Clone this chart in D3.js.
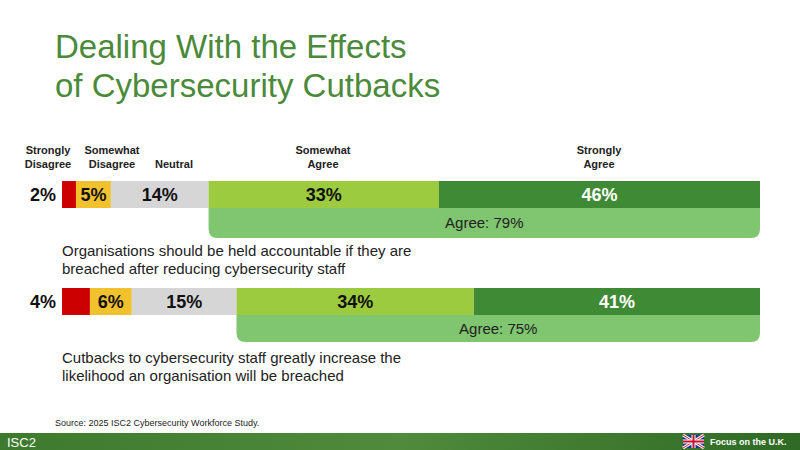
<!DOCTYPE html>
<html><head><meta charset="utf-8">
<script src="https://cdn.jsdelivr.net/npm/d3@7"></script>
<style>body{margin:0;background:#fff}text{font-family:"Liberation Sans",Arial,sans-serif}</style>
</head><body><svg id="chart" width="800" height="450"></svg>
<script>
const categories = ["Strongly\nDisagree", "Somewhat\nDisagree", "Neutral", "Somewhat\nAgree", "Strongly\nAgree"];
const statements = [
  "Organisations should be held accountable if they are\nbreached after reducing cybersecurity staff",
  "Cutbacks to cybersecurity staff greatly increase the\nlikelihood an organisation will be breached"
];
const values = [[2, 5, 14, 33, 46], [4, 6, 15, 34, 41]];
const agreeTotals = [79, 75];
const colors = ["#cc0000", "#f2c12e", "#d6d6d6", "#9dcb3f", "#3f8a35"];

const svg = d3.select("#chart");
const defs = svg.append("defs");
const fg = defs.append("linearGradient").attr("id", "foot").attr("x1", 0).attr("x2", 1);
fg.append("stop").attr("offset", 0).attr("stop-color", "#3d7a2e");
fg.append("stop").attr("offset", 0.5).attr("stop-color", "#4f8b3a");
fg.append("stop").attr("offset", 1).attr("stop-color", "#2f6a25");

// title
svg.append("text").attr("x", 55).attr("y", 58).attr("font-size", 33).attr("fill", "#4a8a3a").text("Dealing With the Effects");
svg.append("text").attr("x", 55).attr("y", 97).attr("font-size", 33).attr("fill", "#4a8a3a").text("of Cybersecurity Cutbacks");

const x = d3.scaleLinear().domain([0, 100]).range([62, 760]);
const rowY = [181, 288], barH = 27, boxH = 30;

// header labels
const headX = [48, 112, 174, 323, 599];
categories.forEach((c, i) => {
  const lines = c.split("\n");
  const t = svg.append("text").attr("text-anchor", "middle").attr("font-size", 11).attr("font-weight", "bold").attr("fill", "#222");
  lines.forEach((l, j) => t.append("tspan").attr("x", headX[i]).attr("y", 154 + (j - lines.length + 1) * 14 + 14).text(l));
});

values.forEach((vals, r) => {
  const y0 = rowY[r];
  const starts = [0, ...d3.cumsum(vals)];
  const agreeStart = starts[3];
  const bx = x(agreeStart), bw = x(100) - x(agreeStart), by = y0 + barH, bh = boxH - (r ? 3 : 0), rr = 9;
  svg.append("path").attr("fill", "#80c570")
    .attr("d", `M${bx},${by}H${bx + bw}V${by + bh - rr}Q${bx + bw},${by + bh} ${bx + bw - rr},${by + bh}H${bx + rr}Q${bx},${by + bh} ${bx},${by + bh - rr}Z`);
  svg.append("text").attr("x", bx + bw / 2).attr("y", by + bh / 2 + 5).attr("text-anchor", "middle")
    .attr("font-size", 15).attr("fill", "#222").text(`Agree: ${agreeTotals[r]}%`);
  vals.forEach((v, i) => {
    svg.append("rect").attr("x", x(starts[i])).attr("y", y0).attr("width", x(starts[i + 1]) - x(starts[i])).attr("height", barH).attr("fill", colors[i]);
    const outside = i === 0;
    svg.append("text")
      .attr("x", outside ? x(0) - 6 : (x(starts[i]) + x(starts[i + 1])) / 2)
      .attr("y", y0 + barH / 2 + 6)
      .attr("text-anchor", outside ? "end" : "middle")
      .attr("font-size", 18).attr("font-weight", "bold")
      .attr("fill", i === 4 ? "#fff" : "#111").text(v + "%");
  });
  const st = svg.append("text").attr("font-size", 15).attr("fill", "#222");
  statements[r].split("\n").forEach((l, j) => st.append("tspan").attr("x", 62).attr("y", y0 + 75 + j * 18).text(l));
});

svg.append("text").attr("x", 55).attr("y", 426).attr("font-size", 9).attr("fill", "#222").text("Source: 2025 ISC2 Cybersecurity Workforce Study.");

// footer
svg.append("rect").attr("x", 0).attr("y", 433).attr("width", 800).attr("height", 17).attr("fill", "url(#foot)");
svg.append("text").attr("x", 7).attr("y", 447).attr("font-size", 13).attr("fill", "#fff").text("ISC2");
const flag = svg.append("g").attr("transform", "translate(683,435)");
flag.append("rect").attr("width", 21).attr("height", 13).attr("fill", "#1a3b8a").attr("rx", 2);
flag.append("path").attr("d", "M0,0L21,13M21,0L0,13").attr("stroke", "#fff").attr("stroke-width", 3);
flag.append("path").attr("d", "M0,0L21,13M21,0L0,13").attr("stroke", "#c8102e").attr("stroke-width", 1);
flag.append("path").attr("d", "M10.5,0V13M0,6.5H21").attr("stroke", "#fff").attr("stroke-width", 4);
flag.append("path").attr("d", "M10.5,0V13M0,6.5H21").attr("stroke", "#c8102e").attr("stroke-width", 2);
svg.append("text").attr("x", 710).attr("y", 445).attr("font-size", 9).attr("font-weight", "bold").attr("fill", "#fff").text("Focus on the U.K.");
</script></body></html>
